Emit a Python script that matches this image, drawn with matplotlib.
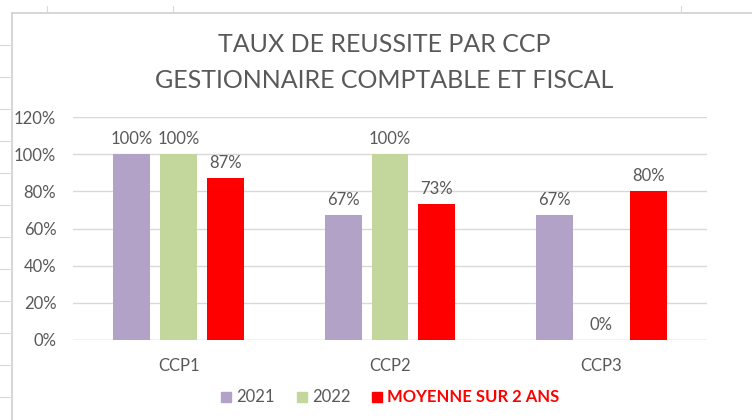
import matplotlib
matplotlib.use("Agg")
import matplotlib.pyplot as plt
from matplotlib.lines import Line2D
from matplotlib.patches import Rectangle
import numpy as np

categories = ["CCP1", "CCP2", "CCP3"]
series_names = ["2021", "2022", "MOYENNE SUR 2 ANS"]
vals_2021 = [1.00, 0.67, 0.67]
vals_2022 = [1.00, 1.00, 0.00]
vals_moy = [0.87, 0.73, 0.80]
yticks = [0, 0.2, 0.4, 0.6, 0.8, 1.0, 1.2]

_COLORS = ["#b3a2c7", "#c3d69b", "#ff0000"]
_TEXT = "#595959"
_GRID = "#d9d9d9"

plt.rcParams["font.family"] = ["Lato", "DejaVu Sans"]

fig = plt.figure(figsize=(7.52, 4.2), dpi=100)
W, H = 752, 420

# spreadsheet frame around the chart object
fig.add_artist(Line2D([12 / W, 12 / W], [0, 1 - 13 / H], color="#d0d0d0", lw=1.2))
fig.add_artist(Line2D([12 / W, 1], [1 - 13 / H, 1 - 13 / H], color="#d0d0d0", lw=1.2))
for yp in range(45, 420, 32):
    fig.add_artist(Line2D([0, 12 / W], [1 - yp / H, 1 - yp / H], color="#d9d9d9", lw=0.8))
for xp in [47, 173, 681]:
    fig.add_artist(Line2D([xp / W, xp / W], [1 - 13 / H, 1 - 6 / H], color="#d9d9d9", lw=0.8))

ax = fig.add_axes([73 / W, 1 - 340 / H, (707 - 73) / W, (340 - 117) / H])

x = np.arange(len(categories))
width = 0.175
gap = 0.047
data = [vals_2021, vals_2022, vals_moy]
for i, (name, vals) in enumerate(zip(series_names, data)):
    offs = (i - 1) * (width + gap)
    bars = ax.bar(x + offs, vals, width, color=_COLORS[i], label=name, zorder=2)
    for b, v in zip(bars, vals):
        ax.text(b.get_x() + b.get_width() / 2, v + 0.04, f"{v:.0%}",
                ha="center", va="bottom", fontsize=12, color=_TEXT)

ax.set_xlim(-0.5, 2.5)
ax.set_ylim(0, 1.2)
ax.set_yticks(yticks)
ax.set_yticklabels([f"{t:.0%}" for t in yticks], fontsize=12, color=_TEXT)
ax.set_xticks(x)
ax.set_xticklabels(categories, fontsize=12, color=_TEXT)
ax.tick_params(axis="both", length=0)
ax.tick_params(axis="y", pad=12)
ax.tick_params(axis="x", pad=13)
ax.yaxis.grid(True, color=_GRID, lw=1, zorder=0)
for s in ax.spines.values():
    s.set_visible(False)
ax.axhline(0, color=_GRID, lw=1, zorder=1)

fig.text(0.511, 1 - 45 / H, "TAUX DE REUSSITE PAR CCP", ha="center", va="center",
         fontsize=18, color=_TEXT)
fig.text(0.511, 1 - 80 / H, "GESTIONNAIRE COMPTABLE ET FISCAL", ha="center", va="center",
         fontsize=18, color=_TEXT)

# legend
leg_y = 1 - 397 / H
items = [(221, "2021"), (297, "2022"), (372, "MOYENNE SUR 2 ANS")]
for i, (xp, label) in enumerate(items):
    fig.add_artist(Rectangle((xp / W, leg_y - 5 / H), 10 / W, 10 / H,
                             color=_COLORS[i], transform=fig.transFigure))
    red = i == 2
    fig.text((xp + 15) / W, leg_y, label, ha="left", va="center", fontsize=12,
             color="#ff0000" if red else _TEXT, fontweight="bold" if red else "normal")

fig.savefig("out.png", dpi=100)
